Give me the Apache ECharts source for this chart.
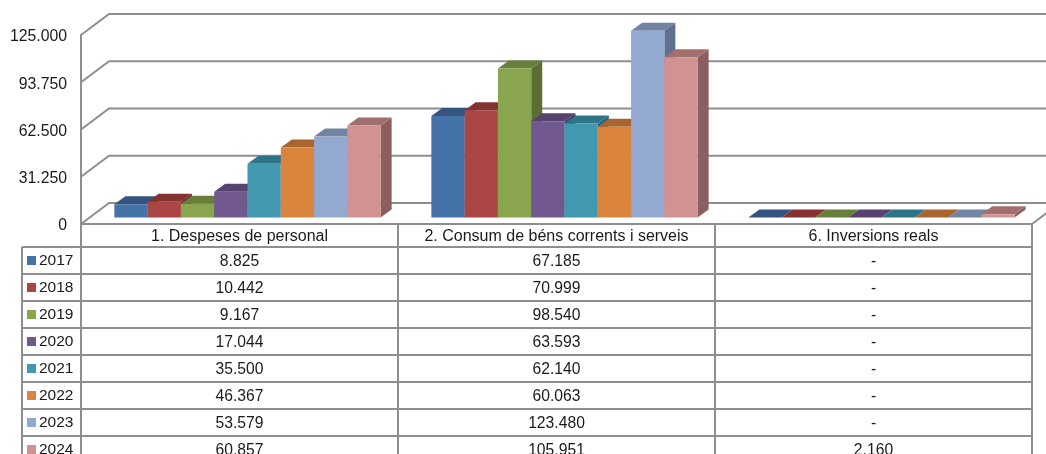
<!DOCTYPE html>
<html>
<head>
<meta charset="utf-8">
<script src="https://cdn.jsdelivr.net/npm/echarts@6/dist/echarts.min.js"></script>
<style>
html, body { margin: 0; padding: 0; background: #fff; }
#chart { width: 1046px; height: 454px; }
</style>
</head>
<body>
<div id="chart"></div>
<script>
var categories = ['1. Despeses de personal', '2. Consum de béns corrents i serveis', '6. Inversions reals'];
var years = ['2017', '2018', '2019', '2020', '2021', '2022', '2023', '2024'];
var v2017 = [8825, 67185, null];
var v2018 = [10442, 70999, null];
var v2019 = [9167, 98540, null];
var v2020 = [17044, 63593, null];
var v2021 = [35500, 62140, null];
var v2022 = [46367, 60063, null];
var v2023 = [53579, 123480, null];
var v2024 = [60857, 105951, 2160];
var yTicks = [0, 31250, 62500, 93750, 125000];
var values = [v2017, v2018, v2019, v2020, v2021, v2022, v2023, v2024];

var frontColors = ['#4572a7', '#aa4643', '#89a54e', '#71588f', '#4198af', '#db843d', '#93a9cf', '#d19392'];
var topColors = ['#34547f', '#853331', '#687e3b', '#58426f', '#2e7488', '#a86530', '#7284a2', '#a06f6e'];
var sideColors = ['#2d4a70', '#702c2a', '#5c6e34', '#4b3860', '#28657a', '#94582a', '#5f7190', '#8b5f5f'];

var lineGray = '#8e8e8e';
var textColor = '#1a1a1a';
var fontName = '"Liberation Sans", Arial, sans-serif';

// grid box, the front plane of the 3d chart
var gridLeft = 81;
var gridTop = 35;
var gridRight = 1032;
var gridBottom = 224;
var depthX = 28;
var depthY = 21;

// table under the chart
var tableLeft = 22;
var headerBottom = 247;
var rowHeight = 27;
var colWidth = (gridRight - gridLeft) / categories.length;

function fmt(v) {
  if (v === null) return '-';
  return String(v).replace(/\B(?=(\d{3})+$)/g, '.');
}

// back wall lines + floor, one item per tick
function renderWall(params, api) {
  var v = api.value(0);
  var y = api.coord([0, v])[1];
  var cs = params.coordSys;
  var shape = {
    points: [[cs.x, y], [cs.x + depthX, y - depthY], [cs.x + cs.width + depthX, y - depthY]]
  };
  var children = [{
    type: 'polyline',
    shape: shape,
    style: { stroke: lineGray, lineWidth: 2, fill: null }
  }];
  if (v === 0) {
    children.push({
      type: 'line',
      shape: { x1: cs.x + cs.width, y1: y, x2: cs.x + cs.width + depthX, y2: y - depthY },
      style: { stroke: lineGray, lineWidth: 2 }
    });
  }
  return { type: 'group', children: children };
}

function renderBar(params, api) {
  var s = params.seriesIndex - 1;
  var cat = api.value(0);
  var val = api.value(1) || 0;
  var band = api.size([1, 0])[0];
  var barW = band * 0.105;
  var center = api.coord([cat, 0])[0] + 8;
  var x0 = center - barW * years.length / 2 + barW * s;
  var x1 = x0 + barW;
  var yb = api.coord([cat, 0])[1] - 6.5;
  var yt = api.coord([cat, val])[1] - 6.5;
  var dx = 11;
  var dy = 8;
  return {
    type: 'group',
    children: [
      {
        type: 'polygon',
        shape: { points: [[x1, yb], [x1 + dx, yb - dy], [x1 + dx, yt - dy], [x1, yt]] },
        style: { fill: sideColors[s] }
      },
      {
        type: 'polygon',
        shape: { points: [[x0, yt], [x0 + dx, yt - dy], [x1 + dx, yt - dy], [x1, yt]] },
        style: { fill: topColors[s] }
      },
      {
        type: 'rect',
        shape: { x: x0, y: yt, width: barW, height: yb - yt },
        style: { fill: frontColors[s] }
      }
    ]
  };
}

var series = [{
  type: 'custom',
  name: 'wall',
  renderItem: renderWall,
  encode: { y: 0 },
  data: yTicks.map(function (t) { return [t]; }),
  silent: true,
  z: 1
}];
years.forEach(function (year, s) {
  series.push({
    type: 'custom',
    name: year,
    renderItem: renderBar,
    encode: { x: 0, y: 1 },
    data: values[s].map(function (v, i) { return [i, v]; }),
    z: 2 + s
  });
});

// table lines and texts
var tableParts = [];
function hLine(x1, x2, y) {
  tableParts.push({
    type: 'line',
    shape: { x1: x1, y1: y, x2: x2, y2: y },
    style: { stroke: lineGray, lineWidth: 2 }
  });
}
function vLine(x, y1, y2) {
  tableParts.push({
    type: 'line',
    shape: { x1: x, y1: y1, x2: x, y2: y2 },
    style: { stroke: lineGray, lineWidth: 2 }
  });
}
function cellText(str, x, y, align, size) {
  tableParts.push({
    type: 'text',
    x: x,
    y: y,
    style: {
      text: str,
      fill: textColor,
      font: size + 'px ' + fontName,
      align: align,
      verticalAlign: 'middle'
    }
  });
}
var tableBottom = headerBottom + rowHeight * years.length + 10;
for (var c = 0; c <= categories.length; c++) {
  vLine(gridLeft + colWidth * c, gridBottom, tableBottom);
}
vLine(tableLeft, headerBottom, tableBottom);
categories.forEach(function (name, c) {
  cellText(name, gridLeft + colWidth * (c + 0.5), (gridBottom + headerBottom) / 2 + 1, 'center', 16);
});
hLine(tableLeft, gridRight, headerBottom);
years.forEach(function (year, r) {
  var top = headerBottom + rowHeight * r;
  var mid = top + rowHeight / 2;
  hLine(tableLeft, gridRight, top + rowHeight);
  tableParts.push({
    type: 'rect',
    shape: { x: 27, y: mid - 4.5, width: 9, height: 9 },
    style: { fill: frontColors[r] }
  });
  cellText(year, 39, mid, 'left', 15.5);
  categories.forEach(function (name, c) {
    cellText(fmt(values[r][c]), gridLeft + colWidth * (c + 0.5), mid + 1, 'center', 15.7);
  });
});

var chart = echarts.init(document.getElementById('chart'), null, { renderer: 'canvas' });
chart.setOption({
  animation: false,
  backgroundColor: '#fff',
  grid: {
    left: gridLeft,
    top: gridTop,
    width: gridRight - gridLeft,
    height: gridBottom - gridTop
  },
  xAxis: {
    type: 'category',
    data: categories,
    axisLine: { show: true, lineStyle: { color: lineGray, width: 2 } },
    axisTick: { show: false },
    axisLabel: { show: false },
    splitLine: { show: false }
  },
  yAxis: {
    type: 'value',
    min: 0,
    max: 125000,
    interval: 31250,
    axisLine: { show: true, lineStyle: { color: lineGray, width: 2 } },
    axisTick: { show: false },
    splitLine: { show: false },
    axisLabel: {
      margin: 14,
      verticalAlign: 'top',
      padding: [-6, 0, 0, 0],
      color: textColor,
      fontFamily: fontName,
      fontSize: 15.8,
      formatter: function (v) { return fmt(v); }
    }
  },
  series: series,
  graphic: tableParts
});
</script>
</body>
</html>
